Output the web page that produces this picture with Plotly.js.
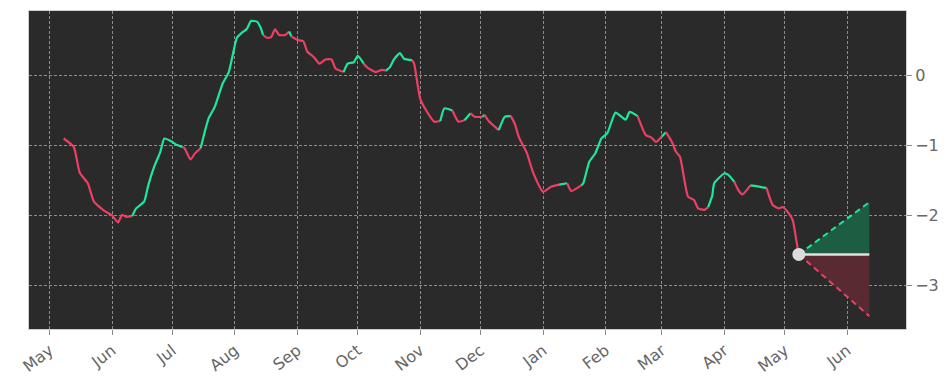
<!DOCTYPE html>
<html>
<head>
<meta charset="utf-8">
<script src="https://cdn.plot.ly/plotly-3.0.1.min.js"></script>
<style>html,body{margin:0;padding:0;background:#fff;}#chart{width:950px;height:381px;}</style>
</head>
<body>
<div id="chart"></div>
<script>
// Main series: dates, values, and colour flag of the segment ending at each point (g = up, r = down)
const dates = ['2022-05-08','2022-05-13','2022-05-16','2022-05-20','2022-05-23','2022-05-28','2022-06-01','2022-06-04','2022-06-06','2022-06-08',
'2022-06-11','2022-06-13','2022-06-17','2022-06-19','2022-06-22','2022-06-25','2022-06-27','2022-07-01','2022-07-03','2022-07-06',
'2022-07-07','2022-07-10','2022-07-12','2022-07-15','2022-07-17','2022-07-19','2022-07-22','2022-07-26','2022-07-29','2022-08-02',
'2022-08-04','2022-08-07','2022-08-09','2022-08-12','2022-08-14','2022-08-15','2022-08-17','2022-08-19','2022-08-21','2022-08-23',
'2022-08-26','2022-08-28','2022-08-29','2022-09-01','2022-09-04','2022-09-06','2022-09-09','2022-09-12','2022-09-15','2022-09-18',
'2022-09-20','2022-09-24','2022-09-26','2022-09-29','2022-10-01','2022-10-04','2022-10-06','2022-10-10','2022-10-13','2022-10-15',
'2022-10-17','2022-10-19','2022-10-22','2022-10-24','2022-10-28','2022-10-29','2022-11-01','2022-11-04','2022-11-08','2022-11-11',
'2022-11-13','2022-11-17','2022-11-20','2022-11-23','2022-11-26','2022-11-28','2022-12-02','2022-12-03','2022-12-05','2022-12-10',
'2022-12-13','2022-12-16','2022-12-18','2022-12-20','2022-12-24','2022-12-27','2023-01-01','2023-01-05','2023-01-09','2023-01-13',
'2023-01-15','2023-01-20','2023-01-21','2023-01-24','2023-01-27','2023-01-30','2023-02-02','2023-02-06','2023-02-11','2023-02-13',
'2023-02-17','2023-02-21','2023-02-24','2023-02-26','2023-03-01','2023-03-03','2023-03-06','2023-03-08','2023-03-10','2023-03-14',
'2023-03-17','2023-03-19','2023-03-22','2023-03-24','2023-03-26','2023-03-27','2023-04-01','2023-04-03','2023-04-06','2023-04-08',
'2023-04-10','2023-04-14','2023-04-17','2023-04-22','2023-04-25','2023-04-28','2023-04-30','2023-05-03','2023-05-05','2023-05-07',
'2023-05-08'];
const values = [-0.90,-1.02,-1.39,-1.54,-1.80,-1.93,-2.00,-2.10,-1.99,-2.02,
-2.01,-1.90,-1.80,-1.57,-1.30,-1.09,-0.90,-0.95,-0.99,-1.02,
-1.04,-1.20,-1.12,-1.04,-0.81,-0.61,-0.45,-0.11,0.05,0.54,
0.60,0.67,0.78,0.77,0.67,0.58,0.54,0.55,0.66,0.58,
0.58,0.63,0.56,0.51,0.49,0.34,0.27,0.17,0.23,0.23,
0.10,0.05,0.17,0.19,0.28,0.17,0.11,0.05,0.08,0.07,
0.12,0.23,0.32,0.24,0.22,0.17,-0.33,-0.50,-0.66,-0.65,
-0.47,-0.50,-0.66,-0.64,-0.54,-0.59,-0.59,-0.56,-0.65,-0.78,
-0.59,-0.58,-0.69,-0.88,-1.11,-1.38,-1.66,-1.59,-1.56,-1.54,
-1.65,-1.57,-1.54,-1.23,-1.11,-0.90,-0.82,-0.53,-0.63,-0.52,
-0.58,-0.85,-0.89,-0.95,-0.87,-0.81,-0.95,-1.09,-1.16,-1.73,
-1.78,-1.90,-1.92,-1.88,-1.72,-1.54,-1.40,-1.42,-1.52,-1.64,
-1.70,-1.57,-1.58,-1.61,-1.85,-1.90,-1.88,-1.97,-2.07,-2.40,
-2.557];
const trend = ['r','r','r','r','r','r','r','r','r','r',
'r','g','g','g','g','g','g','g','g','g',
'r','r','r','r','g','g','g','g','g','g',
'g','g','g','g','g','g','r','r','r','r',
'r','r','g','r','r','r','r','r','r','r',
'r','r','g','g','g','g','r','r','r','r',
'g','g','g','g','g','r','r','r','r','r',
'g','g','r','r','g','r','r','g','r','r',
'g','g','r','r','r','r','r','r','r','g',
'r','r','g','g','g','g','g','g','g','g',
'g','r','r','r','r','g','r','r','r','r',
'r','r','r','r','g','g','g','g','g','r',
'r','r','g','g','r','r','r','r','r','r',
'r'];

// Forecast cone
const fcDates = ['2023-05-08','2023-06-12'];
const fcMid = [-2.557,-2.557];
const fcUpper = [-2.557,-1.81];
const fcLower = [-2.557,-3.44];

const GREEN = '#1ee79b';
const RED = '#eb4063';

const traces = [];
// cone fills
traces.push({x: fcDates, y: fcMid, mode:'lines', line:{width:0}, hoverinfo:'skip', showlegend:false});
traces.push({x: fcDates, y: fcUpper, mode:'lines', fill:'tonexty', fillcolor:'rgb(29,93,66)', line:{color:GREEN, width:2, dash:'6px,4px'}, showlegend:false});
traces.push({x: fcDates, y: fcMid, mode:'lines', line:{width:0}, hoverinfo:'skip', showlegend:false});
traces.push({x: fcDates, y: fcLower, mode:'lines', fill:'tonexty', fillcolor:'rgb(89,42,50)', line:{color:RED, width:2, dash:'6px,4px'}, showlegend:false});

// main line split into coloured runs
let i = 1;
while (i < dates.length) {
  const t = trend[i];
  const xs = [dates[i-1]], ys = [values[i-1]];
  while (i < dates.length && trend[i] === t) { xs.push(dates[i]); ys.push(values[i]); i++; }
  traces.push({x: xs, y: ys, mode:'lines', line:{color: t === 'g' ? GREEN : RED, width:2.2, shape:'spline', smoothing:0.5}, showlegend:false});
}
traces.push({x: fcDates, y: fcMid, mode:'lines', line:{color:'#e0e0e0', width:2.5}, showlegend:false});
traces.push({x: [fcDates[0]], y: [fcMid[0]], mode:'markers', marker:{color:'#dcdcdc', size:13}, showlegend:false});

const tickFont = {family:'DejaVu Sans', size:16, color:'#666666'};
const layout = {
  width:950, height:381,
  margin:{l:29, r:44, t:11, b:52},
  paper_bgcolor:'#ffffff', plot_bgcolor:'#2a2a2a',
  showlegend:false,
  xaxis:{type:'date', range:['2022-04-20 19:00','2023-06-30 05:00'],
    tick0:'2022-05-01', dtick:'M1', tickformat:'%b', tickangle:-38,
    tickfont:tickFont, ticks:'outside', ticklen:5, tickcolor:'#888',
    showgrid:true, gridcolor:'rgba(210,210,210,0.6)', griddash:'3px,2px', gridwidth:1,
    showline:true, linecolor:'#cfcfcf', linewidth:1, mirror:true, zeroline:false},
  yaxis:{range:[-3.624,0.923], side:'right', tickvals:[-3,-2,-1,0],
    tickfont:tickFont, ticks:'outside', ticklen:5, tickcolor:'#888',
    showgrid:true, gridcolor:'rgba(210,210,210,0.6)', griddash:'3px,2px', gridwidth:1,
    showline:true, linecolor:'#cfcfcf', linewidth:1, mirror:true, zeroline:false}
};
Plotly.newPlot('chart', traces, layout, {staticPlot:true, displayModeBar:false});
</script>
</body>
</html>
